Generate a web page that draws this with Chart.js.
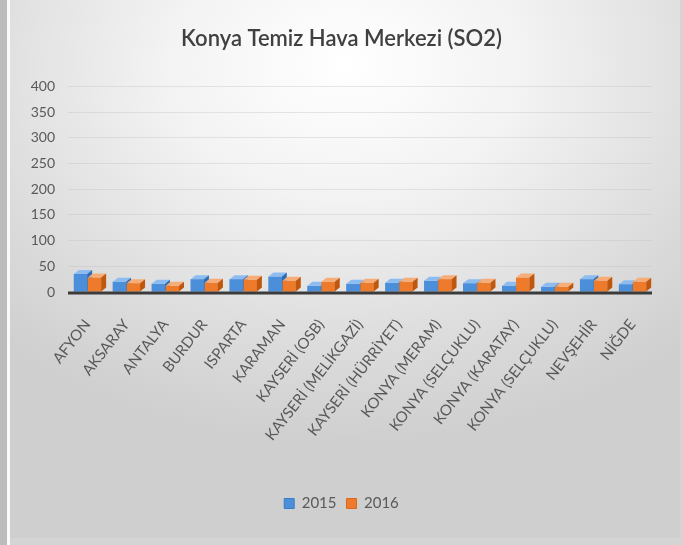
<!DOCTYPE html>
<html>
<head>
<meta charset="utf-8">
<script src="https://cdn.jsdelivr.net/npm/chart.js@4"></script>
<style>
  html, body { margin: 0; padding: 0; width: 683px; height: 545px; overflow: hidden; background: #d4d4d4; }
  #frame {
    position: absolute; left: 10px; top: 0; width: 670px; height: 538px;
    background: radial-gradient(ellipse 75% 70% at 50% 12%, #ffffff 0%, #f3f3f3 35%, #dcdcdc 75%, #cfcfcf 100%);
  }
  #stripe { position: absolute; left: 0; top: 0; width: 7px; height: 545px; background: #bcbcbc; }
  #stripe2 { position: absolute; left: 7px; top: 0; width: 3px; height: 545px; background: #fafafa; }
  #wrap { position: absolute; left: 0; top: 0; width: 683px; height: 545px; }
</style>
</head>
<body>
<div id="stripe"></div>
<div id="stripe2"></div>
<div id="frame"></div>
<div id="wrap"><canvas id="chart" width="683" height="545"></canvas></div>
<script>
// Stations (categories)
const stations = [
    'AFYON', 'AKSARAY', 'ANTALYA', 'BURDUR', 'ISPARTA', 'KARAMAN',
    'KAYSERİ (OSB)', 'KAYSERİ (MELİKGAZİ)', 'KAYSERİ (HÜRRİYET)',
    'KONYA (MERAM)', 'KONYA (SELÇUKLU)', 'KONYA (KARATAY)',
    'KONYA (SELÇUKLU)', 'NEVŞEHİR', 'NİĞDE'
];

// SO2 values
const so2_2015 = [35, 20, 16, 25, 25, 30, 12, 16, 18, 22, 17, 12, 10, 25, 15];
const so2_2016 = [28, 17, 12, 18, 24, 22, 20, 18, 20, 25, 18, 28, 10, 22, 20];

const yTicks = [0, 50, 100, 150, 200, 250, 300, 350, 400];

// simple 3D look: front, top and side faces from each bar element,
// redrawn category by category so the 2016 bar sits in front of the 2015 one
const DX = 5, DY = 4;
const faces = [
    { front: '#4b8fdb', top: '#8dbdf0', side: '#2e6db4' },
    { front: '#ee7b2b', top: '#f6ad78', side: '#c0570f' }
];

const bar3d = {
    id: 'bar3d',
    afterDatasetsDraw(chart) {
        const ctx = chart.ctx;
        const metas = chart.data.datasets.map((d, i) => chart.getDatasetMeta(i));
        for (let c = 0; c < chart.data.labels.length; c++) {
            metas.forEach((meta, i) => {
                const bar = meta.data[c];
                const col = faces[i];
                const l = bar.x - bar.width / 2, r = bar.x + bar.width / 2;
                const t = bar.y, b = bar.base;
                ctx.save();
                ctx.fillStyle = col.front;
                ctx.fillRect(l, t, r - l, b - t);
                ctx.fillStyle = col.top;
                ctx.beginPath();
                ctx.moveTo(l, t); ctx.lineTo(l + DX, t - DY);
                ctx.lineTo(r + DX, t - DY); ctx.lineTo(r, t);
                ctx.closePath(); ctx.fill();
                ctx.fillStyle = col.side;
                ctx.beginPath();
                ctx.moveTo(r, t); ctx.lineTo(r + DX, t - DY);
                ctx.lineTo(r + DX, b - DY); ctx.lineTo(r, b);
                ctx.closePath(); ctx.fill();
                ctx.restore();
            });
        }
        // floor edge
        const x = chart.scales.x, yb = chart.scales.y.getPixelForValue(0);
        ctx.save();
        ctx.strokeStyle = '#3b3b3b';
        ctx.lineWidth = 3;
        ctx.beginPath();
        ctx.moveTo(x.left, yb + 1);
        ctx.lineTo(x.right, yb + 1);
        ctx.stroke();
        ctx.restore();
    }
};

const font = 'Lato, "Open Sans", sans-serif';
const textColor = '#595959';

new Chart(document.getElementById('chart'), {
    type: 'bar',
    data: {
        labels: stations,
        datasets: [
            { label: '2015', data: so2_2015, backgroundColor: '#4b8fdb', borderColor: '#3a7cc6', borderWidth: 1 },
            { label: '2016', data: so2_2016, backgroundColor: '#ee7b2b', borderColor: '#d9691c', borderWidth: 1 }
        ]
    },
    options: {
        responsive: false,
        animation: false,
        layout: { padding: { top: 26, right: 0, bottom: 24, left: 0 } },
        datasets: { bar: { categoryPercentage: 0.72, barPercentage: 0.95 } },
        plugins: {
            title: {
                display: true,
                text: 'Konya Temiz Hava Merkezi (SO2)',
                color: '#404040',
                font: { family: font, size: 22, weight: '600' },
                padding: { top: 0, bottom: 34 }
            },
            legend: {
                position: 'bottom',
                labels: {
                    color: textColor,
                    font: { family: font, size: 15 },
                    boxWidth: 10,
                    boxHeight: 10,
                    padding: 10
                }
            },
            tooltip: { enabled: false }
        },
        scales: {
            x: {
                grid: { display: false, drawTicks: false },
                border: { display: false },
                ticks: {
                    color: textColor,
                    font: { family: font, size: 15 },
                    minRotation: 52,
                    maxRotation: 52,
                    padding: 24,
                    autoSkip: false
                },
                afterFit(scale) { scale.height = 194; }
            },
            y: {
                min: 0,
                max: 400,
                afterBuildTicks(scale) { scale.ticks = yTicks.map(v => ({ value: v })); },
                grid: { color: 'rgba(190,190,190,0.35)', drawTicks: false },
                border: { display: false },
                ticks: {
                    color: textColor,
                    font: { family: font, size: 14 },
                    padding: 13
                },
                afterFit(scale) { scale.width = 68; }
            },
            // empty right-hand margin so the chart area ends where the reference's does
            yRight: {
                position: 'right',
                grid: { display: false, drawTicks: false },
                border: { display: false },
                ticks: { display: false },
                afterFit(scale) { scale.width = 31; }
            }
        }
    },
    plugins: [bar3d]
});
</script>
</body>
</html>
